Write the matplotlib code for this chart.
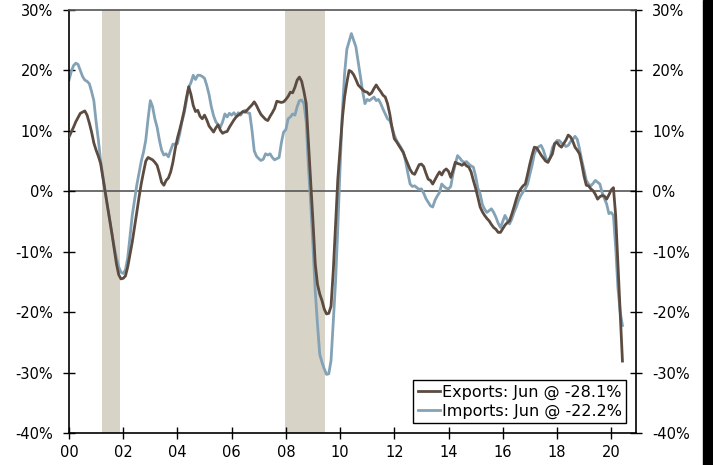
import numpy as np
import matplotlib
matplotlib.use("Agg")
import matplotlib.pyplot as plt
from matplotlib.patches import Rectangle

# year/year % change, monthly, Jan 2000 .. Jun 2020
exports = [
    9.0, 9.8, 10.6, 11.5, 12.2, 12.9, 13.1, 13.3, 12.6, 11.3, 9.8, 8.0,
    6.8, 5.8, 4.6, 2.3, 0.0, -2.3, -4.7, -7.0, -9.5, -12.0, -13.8, -14.5,
    -14.4, -14.0, -12.5, -10.5, -8.4, -6.0, -3.5, -1.0, 1.3, 3.2, 5.0, 5.6,
    5.4, 5.2, 4.8, 4.3, 3.0, 1.5, 1.0, 1.8, 2.2, 3.2, 4.8, 7.0,
    8.8, 10.2, 11.7, 13.4, 15.5, 17.3, 16.0, 14.2, 13.2, 13.4, 12.4, 12.0,
    12.6, 11.8, 10.8, 10.3, 9.8, 10.5, 11.0, 10.1, 9.6, 9.8, 9.9, 10.6,
    11.2, 11.8, 12.3, 12.6, 12.9, 13.2, 13.1, 13.5, 13.9, 14.3, 14.8, 14.2,
    13.4, 12.7, 12.3, 11.9, 11.7, 12.4, 13.0, 13.7, 14.9, 14.8, 14.7, 14.8,
    15.2, 15.7, 16.4, 16.3, 17.2, 18.4, 18.9, 18.2, 16.5, 14.5, 8.0, 1.5,
    -5.0, -12.0, -15.4, -17.0, -18.1, -19.5, -20.3, -20.2, -19.0, -13.1, -5.5, 2.0,
    7.0, 12.0, 15.6, 18.0, 20.0, 19.8, 19.3, 18.5, 17.6, 17.2, 16.8, 16.5,
    16.4, 16.0, 16.3, 17.0, 17.6, 17.0, 16.5, 15.9, 15.6, 14.5, 12.8, 10.5,
    8.7, 8.2, 7.6, 7.0, 6.4, 5.4, 4.5, 3.6, 3.0, 2.8, 3.6, 4.4,
    4.5, 4.1, 3.0, 2.0, 1.8, 1.2, 1.9, 2.6, 3.2, 2.7, 3.4, 3.7,
    3.3, 2.3, 3.5, 4.8, 4.6, 4.5, 4.3, 4.6, 4.2, 4.0, 3.2, 1.8,
    0.5, -1.0, -2.6, -3.4, -4.0, -4.5, -4.9, -5.5, -6.0, -6.3, -6.8, -6.8,
    -6.2, -5.6, -5.2, -4.9, -3.8, -2.6, -1.3, -0.2, 0.4, 0.9, 1.2, 2.8,
    4.5, 6.0, 7.3, 7.2, 6.6, 6.0, 5.5, 5.0, 4.8, 5.5, 6.2, 7.9,
    8.1, 7.6, 7.3, 7.9, 8.5, 9.3, 9.0, 8.3, 7.3, 6.8, 6.2, 4.5,
    2.5, 1.0, 0.9, 0.4, 0.1, -0.5, -1.3, -0.9, -0.7, -0.8, -1.3, -0.6,
    0.2, 0.6, -4.0, -12.0, -20.0, -28.1,
]
imports = [
    18.4, 19.8, 20.8, 21.2, 21.0, 20.0, 19.0, 18.4, 18.2, 17.8, 16.5, 15.0,
    11.5, 8.5, 5.0, 2.5, 0.0, -2.5, -4.8, -7.0, -9.2, -11.0, -12.5, -13.4,
    -13.6, -13.0, -11.0, -7.5, -4.0, -1.5, 1.0, 3.0, 5.0, 6.5, 8.5, 12.0,
    15.0, 14.0, 12.0, 10.6, 8.5, 6.8, 6.0, 6.2, 5.7, 6.8, 7.8, 7.8,
    7.9, 9.5, 11.5, 13.0, 15.0, 17.2, 18.0, 19.2, 18.5, 19.2, 19.2, 19.0,
    18.7, 17.5, 16.0, 14.0, 12.5, 11.5, 11.0, 10.6, 11.5, 12.8, 12.3, 12.9,
    12.6, 13.0, 12.5, 13.0, 12.6, 13.2, 13.4, 13.0, 12.9, 10.1, 6.7, 5.8,
    5.4, 5.1, 5.3, 6.2, 6.0, 6.2, 5.6, 5.2, 5.4, 5.6, 8.0, 9.8,
    10.2, 12.0, 12.3, 12.8, 12.6, 14.0, 15.0, 15.1, 14.5, 11.5, 4.0, -2.0,
    -9.0, -16.5, -22.0, -27.0, -28.3, -29.4, -30.3, -30.2, -28.0, -21.4, -15.0, -6.0,
    4.0, 13.0, 19.5, 23.5, 24.8, 26.1, 25.0, 23.9, 21.5, 19.0, 16.5, 14.5,
    15.2, 15.0, 15.3, 15.6, 15.0, 15.2, 14.5, 13.6, 12.8, 12.0, 11.7, 10.6,
    9.3, 8.4, 7.8, 7.2, 6.5, 5.0, 3.0, 1.2, 0.8, 0.9, 0.6, 0.3,
    0.4, -0.3, -1.2, -1.8, -2.4, -2.6, -1.5, -0.8, -0.2, 1.2, 0.8, 0.5,
    0.4, 0.8, 2.9, 4.5, 5.9, 5.5, 5.0, 4.8, 4.9, 4.5, 4.2, 4.0,
    2.5, 0.5, -0.4, -2.2, -3.0, -3.5, -3.2, -2.9, -3.5, -4.3, -5.3, -6.0,
    -5.0, -4.0, -4.7, -5.4, -4.6, -3.5, -2.6, -1.5, -0.7, -0.1, 0.4, 1.2,
    2.8, 4.3, 6.2, 7.0, 7.4, 7.6, 6.8, 5.6, 4.8, 5.6, 7.2, 7.9,
    8.4, 8.4, 8.0, 7.8, 7.4, 7.6, 8.2, 8.6, 9.1, 8.6, 7.0, 5.1,
    3.5, 1.8, 1.2, 0.9, 1.3, 1.8, 1.5, 1.2, -0.2, -1.2, -2.1, -3.7,
    -3.5, -4.0, -9.3, -16.0, -20.0, -22.2,
]

# recessions as (year, month) start / end
recessions = [((2001, 3), (2001, 11)), ((2007, 12), (2009, 6))]

year_ticks = list(range(2000, 2021, 2))
year_labels = [f"{y % 100:02d}" for y in year_ticks]
pct_ticks = list(range(-40, 31, 10))
pct_labels = [f"{v}%" for v in pct_ticks]

export_label = "Exports: Jun @ -28.1%"
import_label = "Imports: Jun @ -22.2%"


def month_index(y, m):
    return (y - 2000) * 12 + (m - 1)


plt.rcParams['font.family'] = ['DejaVu Sans']
fig = plt.figure(figsize=(7.13, 4.65), dpi=100)
ax = fig.add_axes([69 / 713, 1 - 433 / 465, (636 - 69) / 713, (433 - 10) / 465])

t = np.arange(len(exports))

for (s, e) in recessions:
    ax.axvspan(month_index(*s) + 0.5, month_index(*e) + 0.5, color='#d7d3c7', lw=0, zorder=0)

ax.axhline(0, color='#555555', lw=1.2, zorder=1)
ax.plot(t, exports, color='#5b4b40', lw=2.0, label=export_label, zorder=3)
ax.plot(t, imports, color='#83a2b6', lw=2.0, label=import_label, zorder=2)

ax.set_xlim(0, 251)
ax.set_ylim(-40, 30)
ax.set_xticks([month_index(y, 1) for y in year_ticks])
ax.set_xticklabels(year_labels)
ax.set_yticks(pct_ticks)
ax.set_yticklabels(pct_labels)

ax.yaxis.set_ticks_position('both')
ax.tick_params(axis='y', which='both', direction='inout', length=9, width=1,
               labelleft=True, labelright=True, labelsize=10.5, pad=7, color='black')
ax.tick_params(axis='x', direction='inout', length=9, width=1, labelsize=10.5, pad=4)

for side in ['left', 'right', 'bottom']:
    ax.spines[side].set_color('black')
    ax.spines[side].set_linewidth(1.2)
ax.spines['top'].set_color('#555555')
ax.spines['top'].set_linewidth(1.2)

leg = ax.legend(loc='lower right', fontsize=11.5, frameon=True, fancybox=False,
                edgecolor='black', framealpha=1, handlelength=1.4, handletextpad=0.1,
                borderpad=0.3, labelspacing=0.2, borderaxespad=0.6)
leg.get_frame().set_linewidth(1.0)

# dark strip along the right edge of the original image
fig.patches.append(Rectangle((703 / 713, 0), 10 / 713, 1, transform=fig.transFigure,
                             color='black', zorder=10))

fig.savefig('out.png', dpi=100)
